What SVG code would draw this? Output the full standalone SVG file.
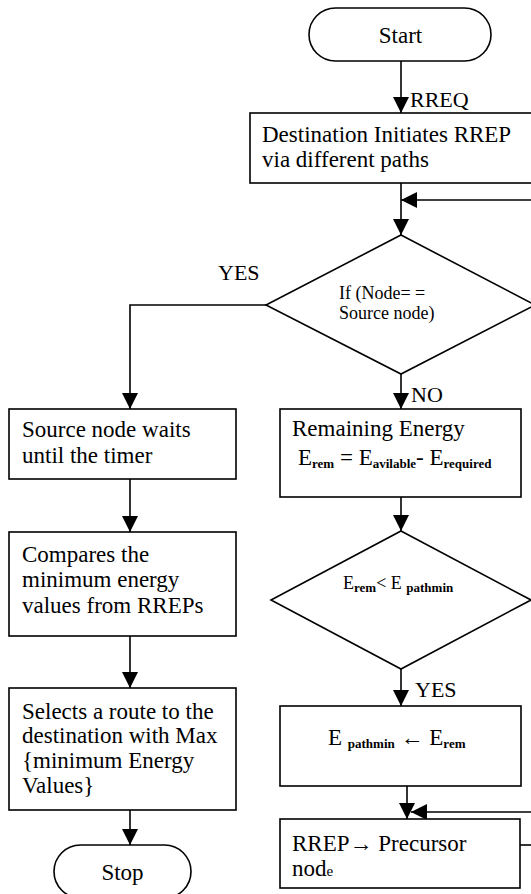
<svg xmlns="http://www.w3.org/2000/svg" width="531" height="894" viewBox="0 0 531 894">
<style>
.shape{fill:#fff;stroke:#000;stroke-width:1.6}
.conn{fill:none;stroke:#000;stroke-width:1.6}
text{font-family:"Liberation Serif","Times New Roman",Tinos,"DejaVu Serif",serif;fill:#000}
.t{font-size:23px}
.d{font-size:18px}
.lbl{font-size:22px}
.sub{font-size:13px;font-weight:bold}
</style>
<defs>
<marker id="ah" markerUnits="userSpaceOnUse" markerWidth="16" markerHeight="16" refX="16" refY="8" orient="auto">
<path d="M0,0 L16,8 L0,16 z" fill="#000"/>
</marker>
</defs>
<rect width="531" height="894" fill="#fff"/>
<g id="connectors">
<path class="conn" d="M401,61 V113" marker-end="url(#ah)"/>
<path class="conn" d="M401,183 V235" marker-end="url(#ah)"/>
<path class="conn" d="M533,200 H401" marker-end="url(#ah)"/>
<path class="conn" d="M266,305 H130 V409" marker-end="url(#ah)"/>
<path class="conn" d="M401,374 V409" marker-end="url(#ah)"/>
<path class="conn" d="M401,497 V531" marker-end="url(#ah)"/>
<path class="conn" d="M401,669 V706" marker-end="url(#ah)"/>
<path class="conn" d="M407,786 V819" marker-end="url(#ah)"/>
<path class="conn" d="M533,812 H411" marker-end="url(#ah)"/>
<path class="conn" d="M520,845 H533"/>
<path class="conn" d="M130,479 V532" marker-end="url(#ah)"/>
<path class="conn" d="M130,636 V688" marker-end="url(#ah)"/>
<path class="conn" d="M130,810 V845" marker-end="url(#ah)"/>
<text class="lbl" x="410" y="107">RREQ</text>
<text class="lbl" x="218" y="280">YES</text>
<text class="lbl" x="411" y="402">NO</text>
<text class="lbl" x="415" y="697">YES</text>
</g>
<g id="start">
<rect class="shape" x="309" y="8" width="182" height="53" rx="26.5"/>
<text class="t" x="400.5" y="43" text-anchor="middle">Start</text>
</g>
<g id="dest-initiates">
<rect class="shape" x="250" y="113" width="300" height="70"/>
<text class="t" x="262" y="142">Destination Initiates RREP</text>
<text class="t" x="262" y="167">via different paths</text>
</g>
<g id="if-source">
<polygon class="shape" points="401,235 535,305 401,374 266,305"/>
<text class="d" x="339" y="299">If (Node= =</text>
<text class="d" x="339" y="319">Source node)</text>
</g>
<g id="source-waits">
<rect class="shape" x="9" y="409" width="227" height="70"/>
<text class="t" x="22" y="437">Source node waits</text>
<text class="t" x="22" y="463">until the timer</text>
</g>
<g id="remaining-energy">
<rect class="shape" x="280" y="409" width="241" height="88"/>
<text class="t" x="292" y="436">Remaining Energy</text>
<text class="t" x="298" y="465">E<tspan class="sub" dy="3">rem</tspan><tspan dy="-3"> = E</tspan><tspan class="sub" dy="3">avilable</tspan><tspan dy="-3">- E</tspan><tspan class="sub" dy="3">required</tspan></text>
</g>
<g id="compares">
<rect class="shape" x="9" y="532" width="227" height="104"/>
<text class="t" x="22" y="562">Compares the</text>
<text class="t" x="22" y="587">minimum energy</text>
<text class="t" x="22" y="613">values from RREPs</text>
</g>
<g id="erem-lt-epathmin">
<polygon class="shape" points="401,531 531,600 401,669 271,600"/>
<text class="d" x="343" y="589">E<tspan class="sub" font-size="12" dy="3">rem</tspan><tspan dy="-3">&lt; E </tspan><tspan class="sub" font-size="12" dy="3">pathmin</tspan></text>
</g>
<g id="selects-route">
<rect class="shape" x="9" y="688" width="227" height="122"/>
<text class="t" x="22" y="719">Selects a route to the</text>
<text class="t" x="22" y="743">destination with Max</text>
<text class="t" x="22" y="768">{minimum Energy</text>
<text class="t" x="22" y="793">Values}</text>
</g>
<g id="stop">
<rect class="shape" x="54" y="845" width="137" height="53" rx="26.5"/>
<text class="t" x="122.5" y="880" text-anchor="middle">Stop</text>
</g>
<g id="update-epathmin">
<rect class="shape" x="280" y="706" width="241" height="80"/>
<text class="t" x="328" y="745">E <tspan class="sub" dy="3">pathmin</tspan><tspan dy="-3" font-weight="bold"> ← </tspan><tspan>E</tspan><tspan class="sub" dy="3">rem</tspan></text>
</g>
<g id="rrep-precursor">
<rect class="shape" x="280" y="819" width="240" height="69"/>
<text class="t" x="292" y="851" font-size="22">RREP<tspan font-weight="bold">→</tspan> Precursor</text>
<text class="t" x="292" y="876" font-size="22">nod<tspan font-size="15">e</tspan></text>
</g>
</svg>
